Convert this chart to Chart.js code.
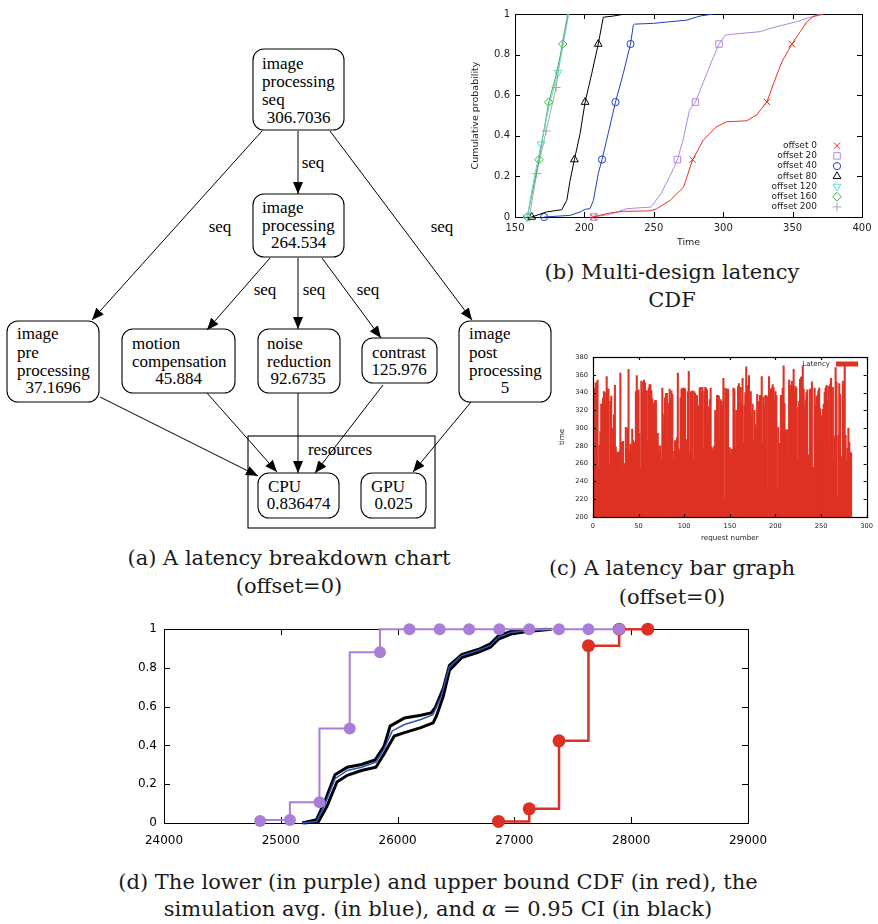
<!DOCTYPE html>
<html><head><meta charset="utf-8">
<script src="https://cdn.jsdelivr.net/npm/chart.js@4/dist/chart.umd.min.js"></script>
<style>
html,body{margin:0;padding:0;background:#fff;}
body{width:878px;height:924px;position:relative;overflow:hidden;}
canvas,svg{position:absolute;}
.cap{position:absolute;font-family:"DejaVu Serif",serif;font-size:21px;color:#1a1a1a;text-align:center;white-space:nowrap;line-height:28px;}
svg text{font-family:"Liberation Serif","Times New Roman",serif;font-size:17px;fill:#000;dominant-baseline:central;}
</style></head><body>

<svg style="left:0;top:0" width="560" height="540">
<defs><marker id="ah" markerWidth="12" markerHeight="10" refX="12" refY="5" orient="auto" markerUnits="userSpaceOnUse"><path d="M0,0 L12,5 L0,10 z" fill="#000"/></marker></defs>
<g fill="none" stroke="#000" stroke-width="1.1">
<rect x="253" y="49" width="91" height="81" rx="11"/>
<rect x="253" y="194" width="91" height="63" rx="11"/>
<rect x="7" y="321" width="92" height="81" rx="11"/>
<rect x="122" y="329" width="113" height="64" rx="11"/>
<rect x="258" y="329" width="82" height="64" rx="11"/>
<rect x="362" y="338" width="75" height="45" rx="11"/>
<rect x="459" y="321" width="92" height="81" rx="11"/>
<rect x="248" y="436" width="187" height="92"/>
<rect x="258" y="473" width="81" height="45" rx="11"/>
<rect x="361" y="473" width="65" height="45" rx="11"/>
</g>
<g stroke="#000" stroke-width="1" marker-end="url(#ah)">
<line x1="298" y1="131" x2="298" y2="194"/>
<line x1="262" y1="131" x2="92" y2="320"/>
<line x1="330" y1="131" x2="472" y2="320"/>
<line x1="270" y1="258" x2="207" y2="330"/>
<line x1="298" y1="258" x2="298" y2="329"/>
<line x1="322" y1="258" x2="381" y2="338"/>
<line x1="100" y1="397" x2="258" y2="476"/>
<line x1="207" y1="393" x2="277" y2="472"/>
<line x1="298" y1="393" x2="298" y2="473"/>
<line x1="383" y1="385" x2="315" y2="473"/>
<line x1="471" y1="402" x2="413" y2="472"/>
</g>
<text x="262" y="63">image</text><text x="262" y="81">processing</text><text x="262" y="99">seq</text><text x="298.5" y="117" text-anchor="middle">306.7036</text>
<text x="262" y="207">image</text><text x="262" y="225">processing</text><text x="298.5" y="242" text-anchor="middle">264.534</text>
<text x="17" y="333">image</text><text x="17" y="352">pre</text><text x="17" y="370">processing</text><text x="53" y="387" text-anchor="middle">37.1696</text>
<text x="132" y="343">motion</text><text x="132" y="361">compensation</text><text x="178.5" y="378" text-anchor="middle">45.884</text>
<text x="267" y="343">noise</text><text x="267" y="361">reduction</text><text x="298" y="378" text-anchor="middle">92.6735</text>
<text x="372" y="352">contrast</text><text x="399" y="369" text-anchor="middle">125.976</text>
<text x="469" y="333">image</text><text x="469" y="352">post</text><text x="469" y="370">processing</text><text x="505" y="387" text-anchor="middle">5</text>
<text x="340" y="449" text-anchor="middle">resources</text>
<text x="268" y="486">CPU</text><text x="298.5" y="503" text-anchor="middle">0.836474</text>
<text x="371" y="486">GPU</text><text x="393.5" y="503" text-anchor="middle">0.025</text>
<text x="313" y="162" text-anchor="middle">seq</text>
<text x="220" y="226" text-anchor="middle">seq</text>
<text x="442" y="226" text-anchor="middle">seq</text>
<text x="265" y="289" text-anchor="middle">seq</text>
<text x="314" y="289" text-anchor="middle">seq</text>
<text x="368" y="289" text-anchor="middle">seq</text>
</svg>

<canvas id="cb" width="408" height="252" style="left:470px;top:0px"></canvas>
<canvas id="cc" width="333" height="205" style="left:545px;top:345px"></canvas>
<canvas id="cd" width="690" height="240" style="left:90px;top:615px"></canvas>

<div class="cap" style="left:89px;width:400px;top:544px">(a) A latency breakdown chart<br>(offset=0)</div>
<div class="cap" style="left:472px;width:400px;top:258px">(b) Multi-design latency<br>CDF</div>
<div class="cap" style="left:472px;width:400px;top:554px;line-height:29px">(c) A latency bar graph<br>(offset=0)</div>
<div class="cap" style="left:38px;width:800px;top:869px;line-height:27px">(d) The lower (in purple) and upper bound CDF (in red), the<br>simulation avg. (in blue), and <i>α</i> = 0.95 CI (in black)</div>

<script>
// ---------- (b) Multi-design latency CDF ----------
const cdfLabels = ['offset 0','offset 20','offset 40','offset 80','offset 120','offset 160','offset 200'];
const off0Time = [206,218.5,228,247,252,261.8,271.5,278,285.6,295,302.6,317,324,331.5,336.3,342.3,349.5,355.5,360.3,365,372.4];
const off0Prob = [0,0.02,0.028,0.03,0.04,0.082,0.148,0.283,0.378,0.444,0.469,0.474,0.502,0.567,0.658,0.765,0.852,0.913,0.962,0.987,1.0];
const off0Mark = [[206.5,0],[278,0.283],[331.5,0.567],[349.5,0.852]];
const off20Time = [206.9,218.5,230.5,248,255.2,262.5,267,271,275.7,280,285.8,293,297,301.4,307.5,326.6,333.8,343.5,353,360.3,370];
const off20Prob = [0,0.013,0.041,0.049,0.115,0.214,0.283,0.378,0.526,0.566,0.666,0.789,0.852,0.896,0.901,0.913,0.929,0.946,0.962,0.979,1.0];
const off20Mark = [[206.9,0],[267,0.283],[280,0.566],[297,0.852]];
const off40Time = [171,189.7,197,200.6,204,206.5,210,212.7,216,222.4,228,233.2,235.3,236,249.8,261.8,273.8,283.4,293];
const off40Prob = [0,0.008,0.025,0.038,0.041,0.082,0.214,0.283,0.378,0.566,0.707,0.852,0.946,0.95,0.954,0.962,0.97,0.99,1.0];
const off40Mark = [[171,0],[212.7,0.283],[222.4,0.566],[233.2,0.852]];
const off80Time = [162,172.8,183.7,187.3,189.7,192.8,196.9,200.5,205.3,210,213.6,220.9,229.3];
const off80Prob = [0,0.025,0.036,0.082,0.18,0.283,0.411,0.566,0.707,0.852,0.984,0.99,1.0];
const off80Mark = [[162,0],[192.8,0.283],[200.5,0.566],[210,0.852]];
const off120Time = [158.9,163.2,168.8,175,181,188.7];
const off120Prob = [0,0.173,0.359,0.559,0.711,1.0];
const off120Mark = [[158.9,0],[168.8,0.359],[181,0.711]];
const off160Time = [158.9,167.3,174.3,179.3,184.4,188.3];
const off160Prob = [0,0.283,0.566,0.69,0.852,1.0];
const off160Mark = [[158.9,0],[167.3,0.283],[174.3,0.566],[184.4,0.852]];
const off200Time = [160.4,165.6,172.4,179.6,183.9,187.9];
const off200Prob = [0,0.214,0.424,0.638,0.852,1.0];
const off200Mark = [[160.4,0],[165.6,0.214],[172.4,0.424],[179.6,0.638]];
const bTimeTicks = [150,400,50];
const bProbTicks = [0,1,0.2];

// ---------- (c) Latency bar graph ----------
const latency = [
357,345,267,351,351,354,255,281,296,327,
327,334,341,340,327,358,344,344,258,330,
336,283,300,315,348,279,272,273,272,274,
362,284,252,285,260,215,301,277,300,366,
274,282,280,299,286,275,284,341,359,341,
343,294,255,353,340,352,354,351,342,342,
285,345,349,349,342,333,328,284,331,331,
284,294,280,274,280,264,345,296,316,334,
339,339,283,328,344,332,342,338,265,274,
286,280,289,362,277,274,334,344,345,344,
345,344,286,287,341,364,272,341,340,342,
265,341,339,322,337,282,325,345,346,340,
346,278,341,346,345,343,324,300,332,345,
279,277,275,280,320,320,337,337,336,286,
332,330,326,356,220,345,340,344,344,250,
278,270,276,276,345,344,278,320,226,347,
350,327,346,327,356,284,326,340,369,347,
348,359,333,341,315,327,287,320,304,300,
338,262,330,337,336,358,283,335,324,337,
336,231,336,358,270,344,345,349,346,332,
341,337,230,301,282,283,337,336,345,370,
328,297,298,298,264,354,270,348,353,348,
366,341,347,345,265,323,330,355,357,358,
370,344,323,331,340,343,270,268,344,340,
352,256,256,345,325,335,337,342,345,322,
314,282,321,327,340,345,348,331,347,282,
349,356,326,346,264,291,368,352,224,292,
350,338,268,259,353,328,370,292,263,277,
300,284,273,272];
const requestNumber = latency.map((_, i) => i);
const cReqTicks = [0,300,50];
const cTimeTicks = [200,380,20];

// ---------- (d) bounds CDF ----------
const lowerX = [24823,25078,25331,25590,25849,26101,26360,26612,26871,27127,27382,27634,27897];
const lowerY = [0.01,0.015,0.107,0.488,0.881,1,1,1,1,1,1,1,1];
const upperX = [26864,27127,27382,27634,27897,28142];
const upperY = [0.008,0.073,0.424,0.915,1,1];
const avgX = [25184,25306,25376,25464,25569,25691,25814,25884,25954,26059,26199,26303,26373,26443,26548,26688,26793,26863,26968,27108,27284];
const avgY = [0,0.008,0.093,0.229,0.271,0.288,0.314,0.381,0.475,0.508,0.534,0.559,0.653,0.805,0.864,0.890,0.915,0.958,0.983,0.992,1.0];
const ciHighX = [25183,25306,25376,25464,25569,25691,25807,25884,25936,26059,26199,26286,26321,26391,26444,26549,26689,26794,26864,26969,27109,27284];
const ciHighY = [0,0.017,0.11,0.249,0.288,0.302,0.325,0.395,0.5,0.542,0.556,0.568,0.593,0.695,0.814,0.869,0.895,0.924,0.966,0.988,0.995,1.0];
const ciLowX = [25201,25324,25394,25481,25569,25691,25814,25884,25971,26059,26199,26304,26332,26391,26444,26549,26689,26794,26864,26969,27109,27319];
const ciLowY = [0,0.008,0.085,0.212,0.246,0.271,0.288,0.356,0.449,0.466,0.492,0.517,0.551,0.653,0.788,0.853,0.881,0.907,0.949,0.975,0.988,1.0];
const dXTicks = [24000,29000,1000];
const dYTicks = [0,1,0.2];

// ---------- helpers ----------
const SANS = "'DejaVu Sans', sans-serif";
const pts = (xs, ys) => xs.map((x, i) => ({x, y: ys[i]}));
const mpts = m => m.map(p => ({x: p[0], y: p[1]}));
const fmt = v => String(Math.round(v * 1000) / 1000);

const frameTicks = {
  id: 'frameTicks',
  draw(chart, o) {
    const {ctx, chartArea: a} = chart;
    const xs = chart.scales.x, ys = chart.scales.y;
    ctx.save();
    ctx.strokeStyle = o.color; ctx.lineWidth = o.width;
    ctx.beginPath();
    xs.ticks.forEach(t => { const p = Math.round(xs.getPixelForValue(t.value)) + 0.5;
      ctx.moveTo(p, a.bottom); ctx.lineTo(p, a.bottom - o.len); ctx.moveTo(p, a.top); ctx.lineTo(p, a.top + o.len); });
    ys.ticks.forEach(t => { const p = Math.round(ys.getPixelForValue(t.value)) + 0.5;
      ctx.moveTo(a.left, p); ctx.lineTo(a.left + o.len, p); ctx.moveTo(a.right, p); ctx.lineTo(a.right - o.len, p); });
    ctx.stroke();
    ctx.strokeRect(Math.round(a.left) + 0.5, Math.round(a.top) + 0.5, Math.round(a.right - a.left), Math.round(a.bottom - a.top));
    ctx.restore();
  },
  beforeDatasetsDraw(chart, args, o) { if (o.under) this.draw(chart, o); },
  afterDatasetsDraw(chart, args, o) { if (!o.under) this.draw(chart, o); }
};

function axis(t, size, color, pad, title, tsize, tpad, fit, isX) {
  return {
    type: 'linear', min: t[0], max: t[1], offset: false,
    ticks: {stepSize: t[2], autoSkip: false, maxRotation: 0, padding: pad, color, font: {family: SANS, size}, callback: fmt},
    grid: {display: false, drawTicks: false, offset: false},
    border: {display: false},
    title: {display: !!title, text: title, color, font: {family: SANS, size: tsize}, padding: tpad},
    afterFit(s) { if (isX) s.height = fit; else s.width = fit; }
  };
}

function drawMarker(ctx, d, x, y) {
  ctx.save();
  ctx.strokeStyle = d.pointBorderColor; ctx.fillStyle = 'rgba(0,0,0,0)'; ctx.lineWidth = d.pointBorderWidth;
  Chart.helpers.drawPoint(ctx, {pointStyle: d.pointStyle, radius: d.pointRadius, rotation: d.pointRotation || 0, borderWidth: d.pointBorderWidth}, x, y);
  ctx.restore();
}

const cdfLegend = {
  id: 'cdfLegend',
  afterDraw(chart, args, o) {
    const ctx = chart.ctx;
    ctx.save();
    ctx.font = `9px ${SANS}`; ctx.fillStyle = '#222'; ctx.textAlign = 'right'; ctx.textBaseline = 'middle';
    chart.data.datasets.filter(d => d.isMarker).forEach((d, i) => {
      const y = o.y0 + i * o.dy;
      ctx.fillText(d.label, o.textX, y);
      drawMarker(ctx, d, o.markX, y);
    });
    ctx.restore();
  }
};

// ---------- chart (b) ----------
const bColors = ['#e8331f','#b387dc','#2040c0','#000000','#66d6d6','#3cb83c','#a8a8a8'];
const bStyles = [['crossRot',0,4.5],['rect',0,4.6],['circle',0,3.6],['triangle',0,4.5],['triangle',180,4.5],['rectRot',0,4.3],['cross',0,4.5]];
const bCurves = [[off0Time,off0Prob,off0Mark],[off20Time,off20Prob,off20Mark],[off40Time,off40Prob,off40Mark],[off80Time,off80Prob,off80Mark],
  [off120Time,off120Prob,off120Mark],[off160Time,off160Prob,off160Mark],[off200Time,off200Prob,off200Mark]];
const bSets = [];
bCurves.forEach((c, i) => bSets.push({label: cdfLabels[i] + ' line', data: pts(c[0], c[1]), showLine: true, borderColor: bColors[i], borderWidth: 1, pointRadius: 0, tension: 0}));
bCurves.forEach((c, i) => bSets.push({label: cdfLabels[i], isMarker: true, data: mpts(c[2]), showLine: false, pointStyle: bStyles[i][0], pointRotation: bStyles[i][1], pointRadius: bStyles[i][2],
  pointBorderColor: bColors[i], pointBackgroundColor: 'rgba(0,0,0,0)', pointBorderWidth: 1, clip: false}));

new Chart(document.getElementById('cb'), {
  type: 'scatter',
  data: {datasets: bSets},
  options: {
    responsive: false, animation: false, events: [],
    layout: {padding: {top: 14, right: 16, left: 0, bottom: 0}},
    plugins: {legend: {display: false}, tooltip: {enabled: false},
      frameTicks: {color: '#000', width: 1, len: 5, under: true},
      cdfLegend: {textX: 347, markX: 367, y0: 145.7, dy: 10.2}},
    scales: {
      x: axis(bTimeTicks, 10, '#222', 5, 'Time', 9.5, {top: 0, bottom: 4}, 35, true),
      y: axis(bProbTicks, 10, '#222', 5, 'Cumulative probability', 9.5, {top: 0, bottom: 0}, 45, false)
    }
  },
  plugins: [frameTicks, cdfLegend]
});

// ---------- chart (c) ----------
const barRed = '#de3224';
const barLegend = {
  id: 'barLegend',
  afterDraw(chart, args, o) {
    const ctx = chart.ctx;
    ctx.save();
    ctx.font = `7px ${SANS}`; ctx.fillStyle = '#222'; ctx.textAlign = 'right'; ctx.textBaseline = 'middle';
    ctx.fillText(chart.data.datasets[0].label, o.textX, o.y);
    ctx.fillStyle = chart.data.datasets[0].backgroundColor;
    ctx.fillRect(o.boxX, o.y - 2.5, o.boxW, 5);
    ctx.restore();
  }
};
new Chart(document.getElementById('cc'), {
  type: 'bar',
  data: {datasets: [{label: 'Latency', data: pts(requestNumber, latency), backgroundColor: barRed, borderWidth: 0,
    barThickness: 1.4, base: 200}]},
  options: {
    responsive: false, animation: false, events: [],
    layout: {padding: {top: 12, right: 10, left: 0, bottom: 0}},
    plugins: {legend: {display: false}, tooltip: {enabled: false},
      frameTicks: {color: '#000', width: 1.2, len: 3, under: false},
      barLegend: {textX: 285, boxX: 291, boxW: 22, y: 19}},
    scales: {
      x: axis(cReqTicks, 6.7, '#222', 5, 'request number', 7.2, {top: 0, bottom: 8}, 33, true),
      y: axis(cTimeTicks, 6.7, '#222', 5, 'time', 7.2, {top: 13, bottom: 0}, 48, false)
    }
  },
  plugins: [frameTicks, barLegend]
});

// ---------- chart (d) ----------
const PURPLE = '#a97ed6', RED = '#dd3025', BLUE = '#3050b8';
new Chart(document.getElementById('cd'), {
  type: 'scatter',
  data: {datasets: [
    {label: 'lower bound', data: pts(lowerX, lowerY), showLine: true, stepped: 'after', borderColor: PURPLE, borderWidth: 2,
      pointRadius: 6, pointBackgroundColor: PURPLE, pointBorderColor: PURPLE, pointBorderWidth: 0, clip: false, order: 0},
    {label: 'upper bound', data: pts(upperX, upperY), showLine: true, stepped: 'before', borderColor: RED, borderWidth: 2.5,
      pointRadius: 6.5, pointBackgroundColor: RED, pointBorderColor: RED, pointBorderWidth: 0, clip: false, order: 1},
    {label: 'simulation avg', data: pts(avgX, avgY), showLine: true, borderColor: BLUE, borderWidth: 1.5, pointRadius: 0, order: 2, clip: false},
    {label: 'CI high', data: pts(ciHighX, ciHighY), showLine: true, borderColor: '#000', borderWidth: 3, pointRadius: 0, order: 3, clip: false},
    {label: 'CI low', data: pts(ciLowX, ciLowY), showLine: true, borderColor: '#000', borderWidth: 3, pointRadius: 0, order: 3, clip: false}
  ]},
  options: {
    responsive: false, animation: false, events: [],
    layout: {padding: {top: 13, right: 32, left: 0, bottom: 0}},
    plugins: {legend: {display: false}, tooltip: {enabled: false},
      frameTicks: {color: '#000', width: 1, len: 6, under: true}},
    scales: {
      x: axis(dXTicks, 12, '#000', 11, '', 12, 0, 32, true),
      y: axis(dYTicks, 12, '#000', 7, '', 12, 0, 74, false)
    }
  },
  plugins: [frameTicks]
});
</script>
</body></html>
